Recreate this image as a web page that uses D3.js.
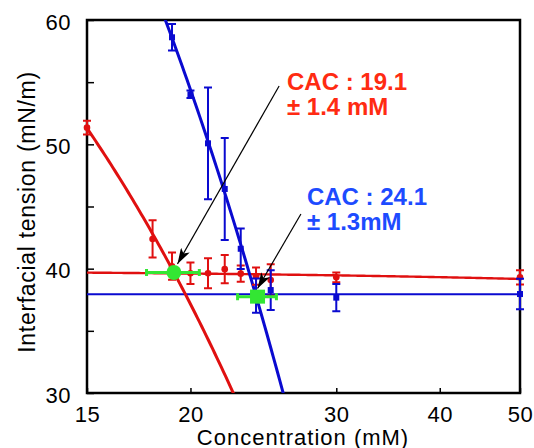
<!DOCTYPE html>
<html>
<head>
<meta charset="utf-8">
<script src="https://cdn.jsdelivr.net/npm/d3@7"></script>
<style>
  body { margin: 0; background: #fff; }
  svg { display: block; font-family: "Liberation Sans", Arial, sans-serif; }
</style>
</head>
<body>
<script>
// concentration (mM) and interfacial tension (mN/m)
var redConc = [15, 18, 19, 20, 21, 22, 23, 24, 25, 30, 50];
var redTension = [51.34, 42.39, 40.2, 39.63, 39.63, 39.96, 39.6, 39.4, 39.09, 39.3, 39.3];
var redErr = [0.55, 1.5, 1.1, 0.87, 1.2, 1.14, 0.65, 0.7, 1.26, 0.4, 0.57];

var blueConc = [19, 20, 21, 22, 23, 24, 25, 30, 50];
var blueTension = [58.61, 54.02, 50.08, 46.41, 41.6, 37.83, 38.28, 37.67, 37.96];
var blueErr = [1.07, 0.3, 4.5, 4.1, 1.63, 1.37, 1.6, 1.1, 1.23];

// linear fits: tension = a + b * conc
var redSteepFit = [93.75, -2.83];
var redFlatFit = [39.9, -0.0146];
var blueSteepFit = [137.4, -4.15];
var blueFlatFit = [37.95, 0];

// CAC points: conc, tension, conc error
var cacConc = [19.1, 24.1];
var cacTension = [39.7, 37.75];
var cacErr = [1.4, 1.3];

var xTicks = [15, 20, 30, 40, 50];
var yTicks = [30, 35, 40, 45, 50, 55, 60];

(function () {
    var w = 534, h = 448;
    var left = 87, right = 520, top = 20, bottom = 393;

    var svg = d3.select("body").append("svg")
        .attr("width", w)
        .attr("height", h);

    var x = d3.scaleLog().domain([15, 50]).range([left, right]);
    var y = d3.scaleLinear().domain([30, 60]).range([bottom, top]);

    svg.append("clipPath").attr("id", "plot")
        .append("rect")
        .attr("x", left).attr("y", top)
        .attr("width", right - left).attr("height", bottom - top);

    // axes, ticks pointing inward
    svg.append("g")
        .attr("transform", "translate(0," + bottom + ")")
        .call(d3.axisBottom(x).tickValues(xTicks).tickFormat(d3.format("d"))
            .tickSizeInner(-5).tickSizeOuter(0).tickPadding(13))
        .call(function (g) {
            g.select(".domain").remove();
            g.selectAll("line").attr("stroke", "#000").attr("stroke-width", 1.5);
            g.selectAll("text").attr("font-size", 22).attr("font-family", null)
                .attr("fill", "#000").attr("letter-spacing", 0.5);
        });

    svg.append("g")
        .attr("transform", "translate(" + left + ",0)")
        .call(d3.axisLeft(y).tickValues(yTicks)
            .tickFormat(function (d) { return d % 10 === 0 ? d : ""; })
            .tickSizeInner(-7).tickSizeOuter(0).tickPadding(16))
        .call(function (g) {
            g.select(".domain").remove();
            g.selectAll("line").attr("stroke", "#000").attr("stroke-width", 1.5);
            g.selectAll("text").attr("font-size", 22).attr("font-family", null)
                .attr("fill", "#000").attr("dy", "0.42em").attr("letter-spacing", 0.5);
        });

    // frame
    svg.append("rect")
        .attr("x", left).attr("y", top)
        .attr("width", right - left).attr("height", bottom - top)
        .attr("fill", "none").attr("stroke", "#000").attr("stroke-width", 2.5);

    // axis titles
    svg.append("text")
        .attr("x", 303)
        .attr("y", 444.5)
        .attr("text-anchor", "middle")
        .attr("font-size", 22)
        .attr("letter-spacing", 1)
        .text("Concentration (mM)");

    svg.append("text")
        .attr("transform", "translate(35,212) rotate(-90)")
        .attr("text-anchor", "middle")
        .attr("font-size", 23)
        .attr("letter-spacing", 0.7)
        .text("Interfacial tension (mN/m)");

    var plot = svg.append("g").attr("clip-path", "url(#plot)");

    // fitted lines
    var samples = d3.range(0, 201).map(function (i) { return 15 * Math.pow(50 / 15, i / 200); });
    function fitLine(fit, color, width) {
        var line = d3.line()
            .x(function (c) { return x(c); })
            .y(function (c) { return y(fit[0] + fit[1] * c); });
        plot.append("path")
            .datum(samples)
            .attr("d", line)
            .attr("fill", "none")
            .attr("stroke", color)
            .attr("stroke-width", width);
    }
    fitLine(redFlatFit, "#e01010", 2.4);
    fitLine(blueFlatFit, "#0a0ad0", 2);
    fitLine(redSteepFit, "#e01010", 3);
    fitLine(blueSteepFit, "#0a0ad0", 3);

    // error bars + markers
    function series(conc, val, err, color, shape) {
        var g = svg.append("g");
        var cap = 4;
        conc.forEach(function (c, i) {
            var cx = x(c), y1 = y(val[i] + err[i]), y2 = y(val[i] - err[i]);
            g.append("path")
                .attr("d", "M" + cx + "," + y1 + "V" + y2 +
                    "M" + (cx - cap) + "," + y1 + "H" + (cx + cap) +
                    "M" + (cx - cap) + "," + y2 + "H" + (cx + cap))
                .attr("stroke", color).attr("stroke-width", 2).attr("fill", "none");
            if (shape === "circle") {
                g.append("circle").attr("cx", cx).attr("cy", y(val[i])).attr("r", 3.3).attr("fill", color);
            } else {
                g.append("rect").attr("x", cx - 3).attr("y", y(val[i]) - 3)
                    .attr("width", 6).attr("height", 6).attr("fill", color);
            }
        });
    }
    series(redConc, redTension, redErr, "#e01010", "circle");
    series(blueConc, blueTension, blueErr, "#0a0ad0", "square");

    // CAC markers
    var green = "#33e633";
    cacConc.forEach(function (c, i) {
        var cy = y(cacTension[i]);
        var x1 = x(c - cacErr[i]), x2 = x(c + cacErr[i]);
        svg.append("path")
            .attr("d", "M" + x1 + "," + cy + "H" + x2 +
                "M" + x1 + "," + (cy - 3.5) + "V" + (cy + 3.5) +
                "M" + x2 + "," + (cy - 3.5) + "V" + (cy + 3.5))
            .attr("stroke", green).attr("stroke-width", 3).attr("fill", "none");
        if (i === 0) {
            svg.append("circle").attr("cx", x(c)).attr("cy", cy).attr("r", 7.5).attr("fill", green);
        } else {
            svg.append("rect").attr("x", x(c) - 7.5).attr("y", cy - 7)
                .attr("width", 15).attr("height", 14).attr("fill", green);
        }
    });

    // annotations
    svg.append("defs").append("marker")
        .attr("id", "arrow")
        .attr("viewBox", "0 0 16 10")
        .attr("refX", 16).attr("refY", 5)
        .attr("markerWidth", 16).attr("markerHeight", 10)
        .attr("markerUnits", "userSpaceOnUse")
        .attr("orient", "auto")
        .append("path").attr("d", "M0,0L16,5L0,10L4,5Z").attr("fill", "#000");

    var notes = [
        { from: [25.59, 54.69], to: [19.29, 40.38], at: [26.16, 54.37], color: "#ff2b12",
          lines: ["CAC : 19.1", "\u00b1 1.4 mM"] },
        { from: [27.19, 44.4], to: [24.1, 38.4], at: [27.65, 45.12], color: "#1d4bff",
          lines: ["CAC : 24.1", "\u00b1 1.3mM"] }
    ];
    notes.forEach(function (n) {
        svg.append("line")
            .attr("x1", x(n.from[0])).attr("y1", y(n.from[1]))
            .attr("x2", x(n.to[0])).attr("y2", y(n.to[1]))
            .attr("stroke", "#000").attr("stroke-width", 1.2)
            .attr("marker-end", "url(#arrow)");
        var t = svg.append("text")
            .attr("x", x(n.at[0])).attr("y", y(n.at[1]))
            .attr("font-size", 24).attr("font-weight", "bold")
            .attr("fill", n.color);
        n.lines.forEach(function (s, i) {
            t.append("tspan").attr("x", x(n.at[0])).attr("dy", i === 0 ? 0 : 25).text(s);
        });
    });
})();
</script>
</body>
</html>
